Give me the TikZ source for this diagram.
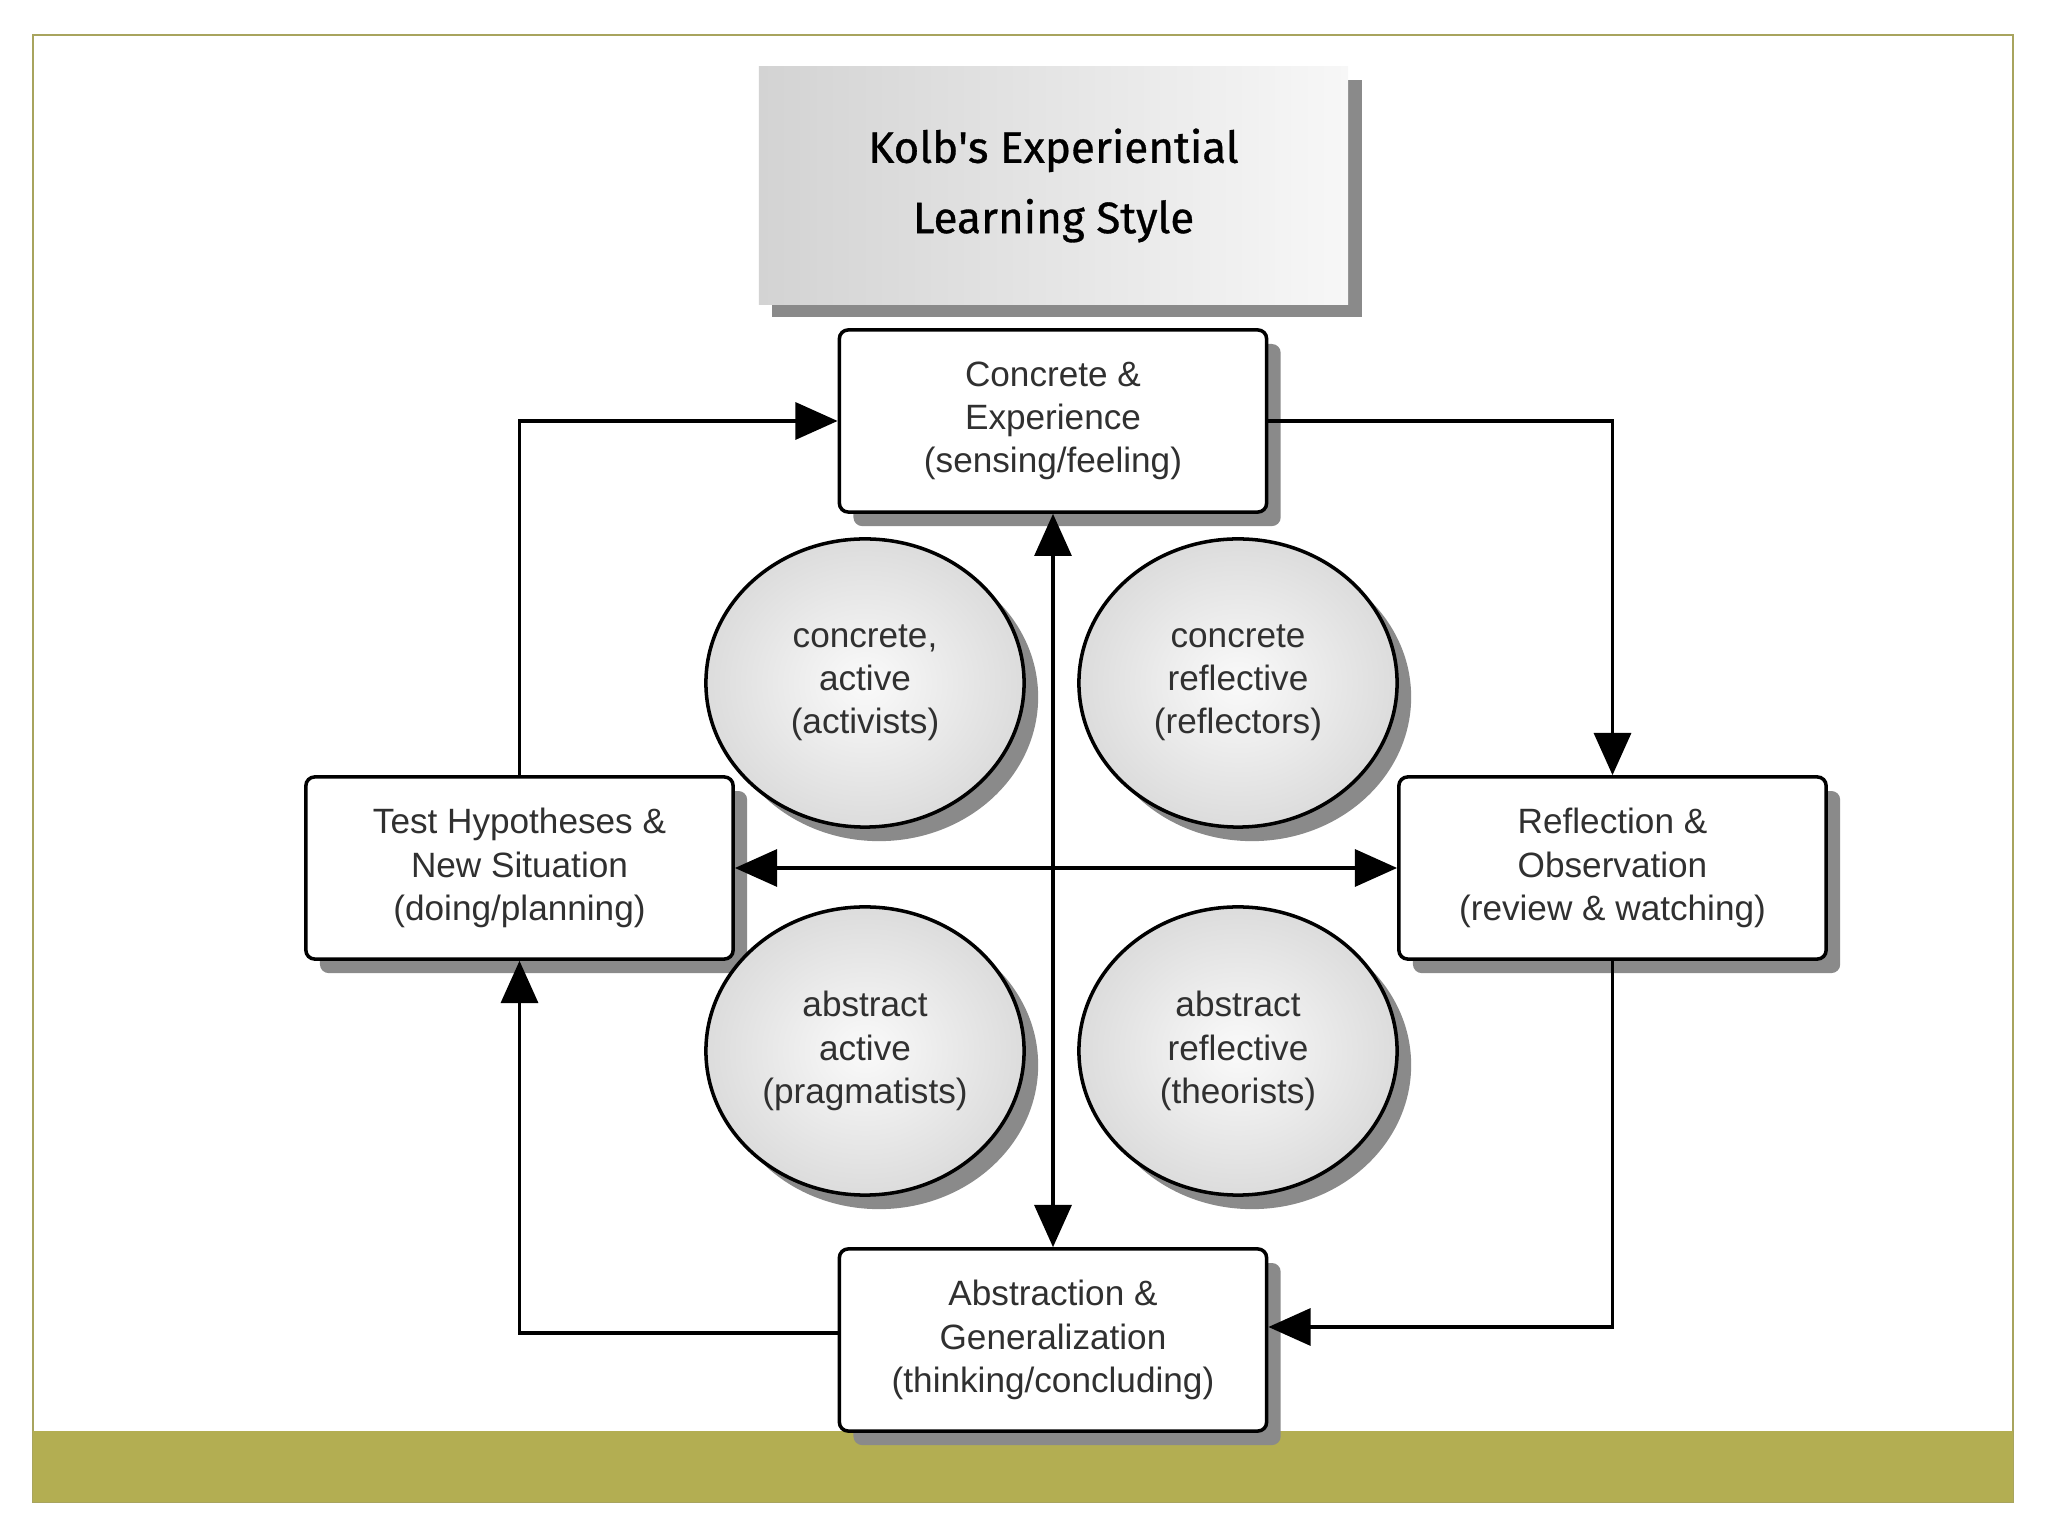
\documentclass[tikz,border=0pt]{standalone}
\usepackage{fontspec}
\setmainfont{Liberation Sans}
\newfontfamily\titlefont[FakeBold=0.7]{Fira Sans}
\usepackage{tikz}
\usetikzlibrary{arrows.meta,positioning,calc,shapes.geometric,shadows}
\definecolor{Olive}{HTML}{B3AE52}
\definecolor{OliveLine}{HTML}{A8A45E}
\definecolor{Ink}{HTML}{303030}
\definecolor{Shade}{HTML}{8A8A8A}
\definecolor{TitleDark}{HTML}{D3D3D3}
\definecolor{TitleLight}{HTML}{F7F7F7}
\definecolor{BallEdge}{HTML}{DCDCDC}
\definecolor{BallCore}{HTML}{FAFAFA}
\tikzset{
  headline/.style={left color=TitleDark,right color=TitleLight,minimum width=5.89cm,minimum height=2.37cm,align=center,text=black,font=\titlefont\fontsize{12.5}{20}\selectfont,drop shadow={shadow xshift=3.8pt,shadow yshift=-3.8pt,fill=Shade,opacity=1}},
  stage/.style={draw=black,fill=white,line width=1pt,rounded corners=2.5pt,minimum width=4.27cm,minimum height=1.82cm,align=center,text=Ink,font=\fontsize{10}{12.3}\selectfont,drop shadow={shadow xshift=4pt,shadow yshift=-4pt,fill=Shade,opacity=1}},
  learner/.style={ellipse,draw=black,line width=1pt,inner color=BallCore,outer color=BallEdge,minimum width=3.18cm,minimum height=2.88cm,inner sep=0pt,align=center,text=Ink,font=\fontsize{10}{12.3}\selectfont,drop shadow={shadow xshift=4pt,shadow yshift=-4pt,fill=Shade,opacity=1}},
  flow/.style={-{Triangle[length=12pt,width=10.5pt]},draw=black,line width=1pt},
  twoway/.style={{Triangle[length=12pt,width=10.5pt]}-{Triangle[length=12pt,width=10.5pt]},draw=black,line width=1pt}
}
\begin{document}
\begin{tikzpicture}[x=0.01cm,y=0.01cm]
  \useasboundingbox (0,0) rectangle (2048,1536);
  \draw[OliveLine,line width=.6pt] (33,34) rectangle (2013,1501);
  \fill[Olive] (33,34) rectangle (2013,105);
  \node[headline] (title) at (1053.5,1350.5) {Kolb\textquotesingle s Experiential\\Learning Style};
  \node[stage] (concrete) at (1053,1115) {Concrete \&\\Experience\\(sensing/feeling)};
  \node[stage] (reflect) at (1612.5,668) {Reflection \&\\Observation\\(review \& watching)};
  \node[stage] (abstract) at (1053,196) {Abstraction \&\\Generalization\\(thinking/concluding)};
  \node[stage] (test) at (519.5,668) {Test Hypotheses \&\\New Situation\\(doing/planning)};
  \node[learner] (activists) at (865,853) {concrete,\\active\\(activists)};
  \node[learner] (reflectors) at (1238,853) {concrete\\reflective\\(reflectors)};
  \node[learner] (pragmatists) at (865,485) {abstract\\active\\(pragmatists)};
  \node[learner] (theorists) at (1238,485) {abstract\\reflective\\(theorists)};
  \draw[twoway] (concrete) -- (abstract);
  \draw[twoway] (test) -- (reflect);
  \draw[flow] (test.north) |- (concrete.west);
  \draw[flow] (concrete.east) -| (reflect.north);
  \draw[flow] (reflect.south) |- ($(abstract.east)+(0,13)$);
  \draw[flow] ($(abstract.west)+(0,7)$) -| (test.south);
\end{tikzpicture}
\end{document}
